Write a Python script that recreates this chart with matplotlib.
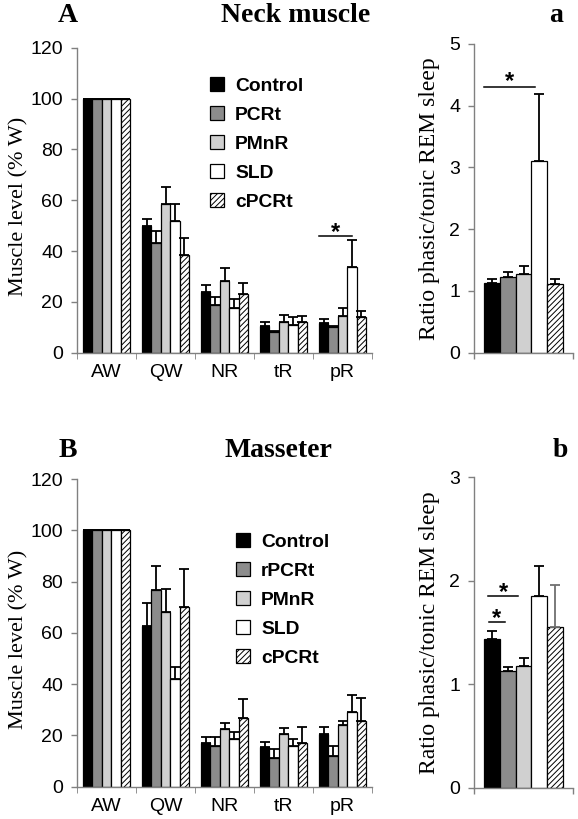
import numpy as np
import matplotlib
matplotlib.use("Agg")
import matplotlib.pyplot as plt
from matplotlib.patches import Patch

####################
# Data
####################

categories = ['AW', 'QW', 'NR', 'tR', 'pR']

# Neck muscle (% W)
neck_control = [100, 49.8, 23.8, 10.5, 11.6]
neck_control_err = [0, 2.7, 2.9, 1.7, 1.6]
neck_pcrt = [100, 43.0, 18.6, 8.1, 10.2]
neck_pcrt_err = [0, 5.0, 3.2, 0.4, 0.3]
neck_pmnr = [100, 58.6, 28.4, 12.2, 14.4]
neck_pmnr_err = [0, 6.5, 4.8, 2.7, 3.0]
neck_sld = [100, 52.0, 17.6, 10.8, 33.7]
neck_sld_err = [0, 6.6, 3.6, 3.2, 10.7]
neck_cpcrt = [100, 38.6, 23.1, 12.2, 14.0]
neck_cpcrt_err = [0, 6.5, 4.4, 2.2, 2.3]

# Masseter (% W)
mass_control = [100, 62.7, 16.9, 15.3, 20.5]
mass_control_err = [0, 8.8, 2.6, 2.3, 2.9]
mass_rpcrt = [100, 76.7, 15.9, 11.1, 12.1]
mass_rpcrt_err = [0, 9.4, 3.6, 3.6, 3.8]
mass_pmnr = [100, 68.0, 22.6, 20.5, 24.1]
mass_pmnr_err = [0, 9.2, 2.1, 2.3, 1.5]
mass_sld = [100, 42.0, 18.6, 15.7, 29.3]
mass_sld_err = [0, 4.8, 2.9, 3.0, 6.6]
mass_cpcrt = [100, 70.2, 26.7, 16.9, 25.7]
mass_cpcrt_err = [0, 14.7, 7.4, 6.5, 8.8]

# Ratio phasic/tonic REM sleep (Control, PCRt, PMnR, SLD, cPCRt)
ratio_neck = [1.13, 1.22, 1.28, 3.10, 1.11]
ratio_neck_err = [0.06, 0.09, 0.12, 1.09, 0.08]
ratio_mass = [1.44, 1.13, 1.18, 1.85, 1.55]
ratio_mass_err = [0.07, 0.04, 0.07, 0.29, 0.41]

neck_labels = ['Control', 'PCRt', 'PMnR', 'SLD', 'cPCRt']
mass_labels = ['Control', 'rPCRt', 'PMnR', 'SLD', 'cPCRt']

####################
# Style
####################

colors = ['black', '#8c8c8c', '#d0d0d0', 'white', 'white']
hatches = [None, None, None, None, '//////']
spine_col = '#808080'
serif = 'Liberation Serif'
sans = 'Liberation Sans'

plt.rcParams['hatch.linewidth'] = 0.7
plt.rcParams['font.family'] = sans

W, H = 578, 819
fig = plt.figure(figsize=(W / 100, H / 100), dpi=100)


def px_axes(left, top, right, bottom):
    return fig.add_axes([left / W, 1 - bottom / H, (right - left) / W, (bottom - top) / H])


def style_axes(ax):
    for s in ['top', 'right']:
        ax.spines[s].set_visible(False)
    for s in ['left', 'bottom']:
        ax.spines[s].set_color(spine_col)
        ax.spines[s].set_linewidth(1)
    ax.tick_params(axis='both', colors=spine_col, labelcolor='black',
                   labelsize=14, length=4, width=1, direction='out')
    ax.tick_params(axis='y', pad=6)


def grouped(ax, series, errs, ecols=None):
    n = len(series)
    group = 0.8
    w = group / n
    x = np.arange(len(series[0]))
    for i in range(n):
        pos = x - group / 2 + w * (i + 0.5)
        ax.bar(pos, series[i], width=w, color=colors[i], edgecolor='black',
               linewidth=0.9, hatch=hatches[i], zorder=2)
        ec = 'black' if ecols is None else ecols[i]
        ax.errorbar(pos, series[i], yerr=[np.zeros(len(errs[i])), errs[i]],
                    fmt='none', ecolor=ec, elinewidth=1.3, capsize=3.8,
                    capthick=1.3, zorder=3)
    return w


def muscle_panel(ax, series, errs):
    style_axes(ax)
    grouped(ax, series, errs)
    ax.set_xlim(-0.5, len(categories) - 0.5)
    ax.set_ylim(0, 120)
    ax.set_yticks(np.arange(0, 121, 20))
    ax.set_xticks(np.arange(len(categories)))
    ax.set_xticklabels(categories)
    ax.tick_params(axis='x', length=0, pad=8)
    ax.set_xticks(np.arange(-0.5, len(categories), 1), minor=True)
    ax.tick_params(axis='x', which='minor', length=4, color=spine_col)
    ax.set_ylabel('Muscle level (% W)', family=serif, fontsize=16)
    ax.yaxis.set_label_coords(-0.166, 0.48)


def ratio_panel(ax, values, errs, ymax, ecols=None):
    style_axes(ax)
    n = len(values)
    group = 0.79
    w = group / n
    pos = -group / 2 + w * (np.arange(n) + 0.5)
    for i in range(n):
        ax.bar(pos[i], values[i], width=w, color=colors[i], edgecolor='black',
               linewidth=0.9, hatch=hatches[i], zorder=2)
        ec = 'black' if ecols is None else ecols[i]
        ax.errorbar(pos[i], values[i], yerr=[[0], [errs[i]]], fmt='none',
                    ecolor=ec, elinewidth=1.3, capsize=3.8, capthick=1.3, zorder=3)
    ax.set_xlim(-0.5, 0.5)
    ax.set_ylim(0, ymax)
    ax.set_yticks(np.arange(0, ymax + 1, 1))
    ax.set_xticks([-0.5, 0.5])
    ax.set_xticklabels([])
    ax.set_ylabel('Ratio phasic/tonic REM sleep', family=serif, fontsize=17)
    ax.yaxis.set_label_coords(-0.343, 0.5)
    return pos, w


def star(ax, x0, x1, y, dy):
    ax.plot([x0, x1], [y, y], color='black', lw=1.1, zorder=4)
    ax.text((x0 + x1) / 2, y + dy, '*', ha='center', va='center',
            fontsize=17, fontweight='bold', family=sans)


def legend(ax, labels, left, top):
    handles = [Patch(facecolor=colors[i], edgecolor='black', hatch=hatches[i],
                     linewidth=0.9) for i in range(len(labels))]
    ax.legend(handles, labels, loc='upper left',
              bbox_to_anchor=(left / W, 1 - top / H), bbox_transform=fig.transFigure,
              frameon=False, prop={'family': sans, 'weight': 'bold', 'size': 13.9},
              handlelength=0.75, handleheight=0.75, handletextpad=0.55,
              labelspacing=0.58, borderpad=0, borderaxespad=0)


####################
# Panels
####################

axA = px_axes(77, 47.7, 372, 352.7)
muscle_panel(axA, [neck_control, neck_pcrt, neck_pmnr, neck_sld, neck_cpcrt],
             [neck_control_err, neck_pcrt_err, neck_pmnr_err, neck_sld_err, neck_cpcrt_err])
legend(axA, neck_labels, 210, 77)
# significance pR: Control vs SLD
star(axA, 4 - 0.4, 4 + 0.16, 46, 1.4)

axa = px_axes(474, 44, 573, 352.7)
pos, w = ratio_panel(axa, ratio_neck, ratio_neck_err, 5)
star(axa, pos[0] - w / 2, pos[3] - w * 0.25, 4.31, 0.09)

axB = px_axes(77, 479, 372, 786.7)
muscle_panel(axB, [mass_control, mass_rpcrt, mass_pmnr, mass_sld, mass_cpcrt],
             [mass_control_err, mass_rpcrt_err, mass_pmnr_err, mass_sld_err, mass_cpcrt_err])
legend(axB, mass_labels, 236, 533)

axb = px_axes(474, 477.3, 573, 787.7)
pos, w = ratio_panel(axb, ratio_mass, ratio_mass_err, 3,
                     ecols=['black', 'black', 'black', 'black', '#707070'])
star(axb, pos[0] - w * 0.25, pos[2] - w * 0.35, 1.85, 0.035)
star(axb, pos[0] - w * 0.2, pos[1] - w * 0.2, 1.60, 0.035)

####################
# Titles
####################

title_kw = dict(family=serif, fontweight='bold', fontsize=20, ha='center', va='center')
fig.text(68 / W, 1 - 16 / H, 'A', **title_kw)
fig.text(296 / W, 1 - 16 / H, 'Neck muscle', **title_kw)
fig.text(556 / W, 1 - 16 / H, 'a', **title_kw)
fig.text(68 / W, 1 - 450 / H, 'B', **title_kw)
fig.text(278 / W, 1 - 450 / H, 'Masseter', **title_kw)
fig.text(560 / W, 1 - 450 / H, 'b', **title_kw)

fig.savefig('out.png', dpi=100)
